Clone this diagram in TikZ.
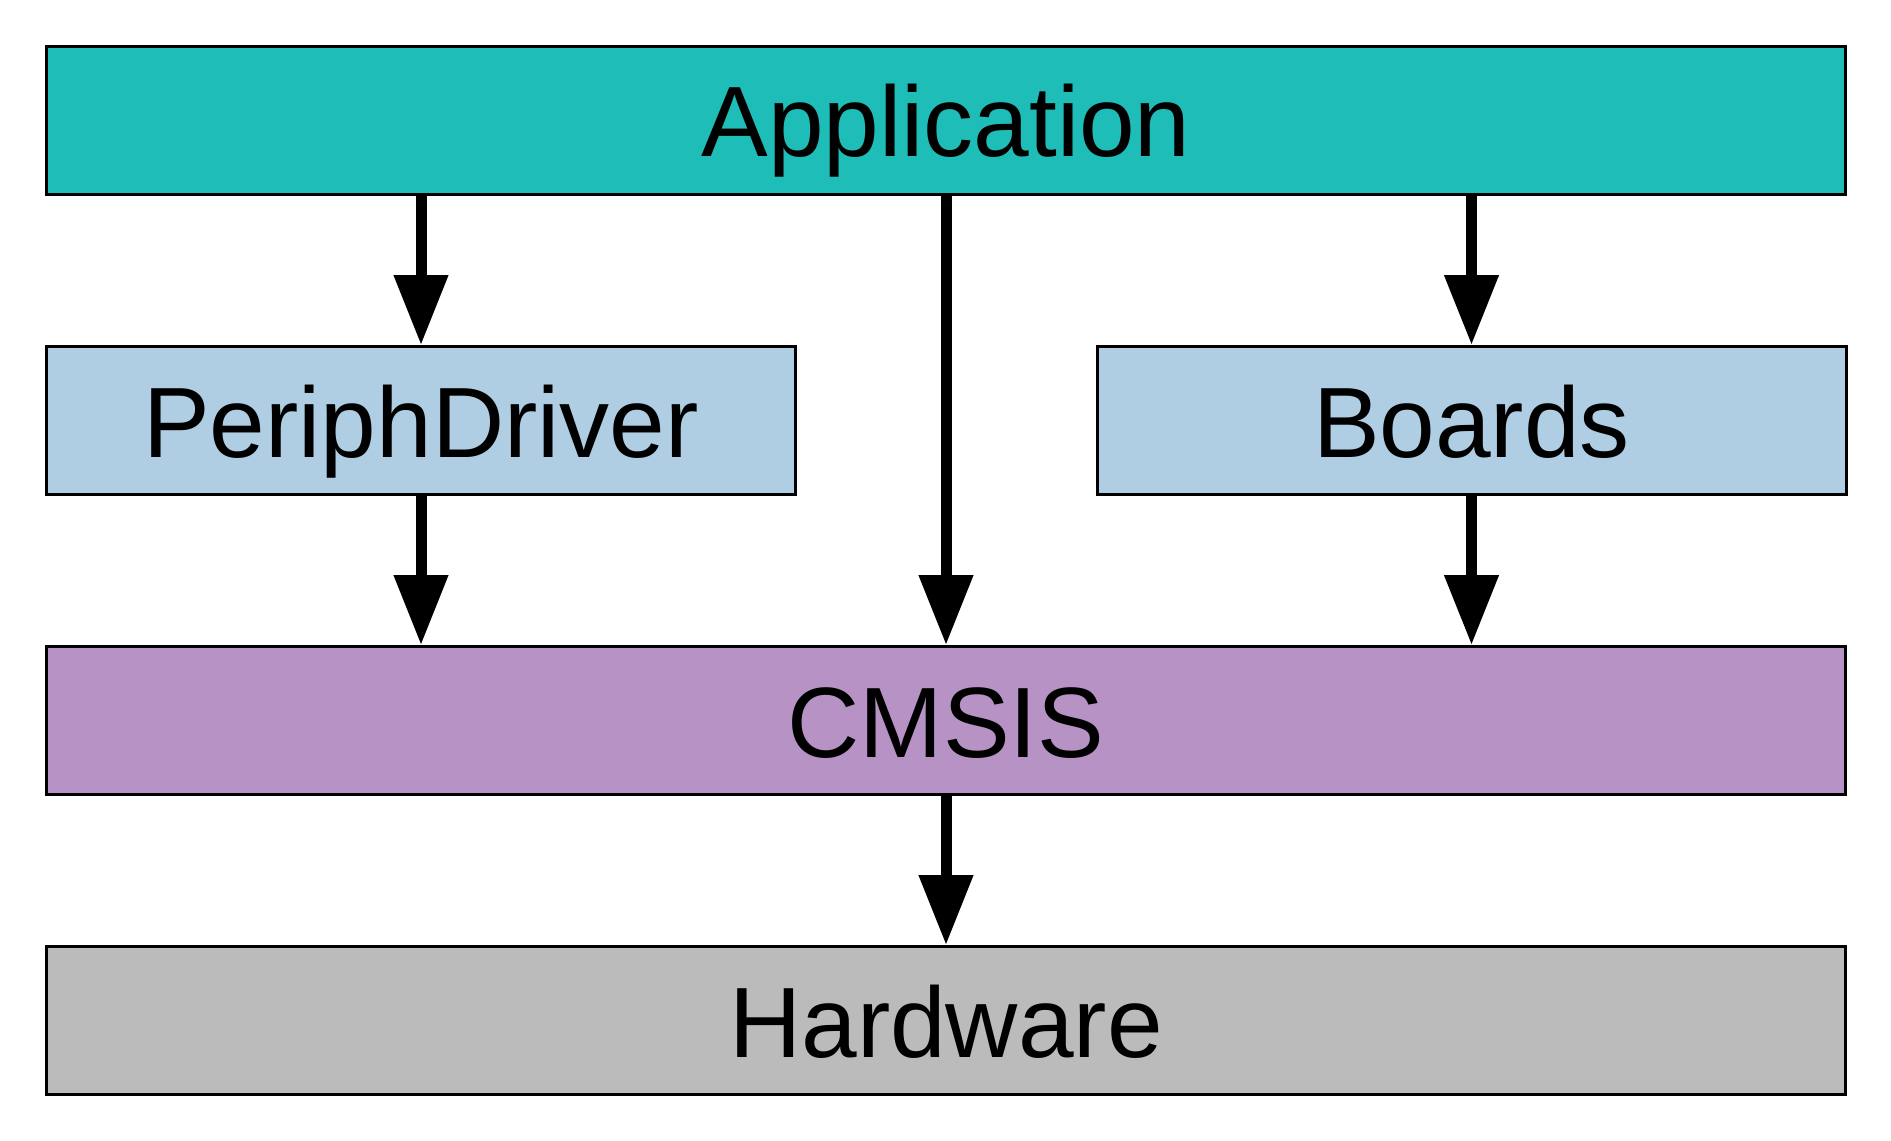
\documentclass[tikz,border=0pt]{standalone}
\usepackage{fontspec}
\setmainfont{Liberation Sans}
\usetikzlibrary{arrows.meta}
\definecolor{appcol}{RGB}{31,189,184}
\definecolor{midcol}{RGB}{175,206,227}
\definecolor{cmsiscol}{RGB}{182,146,197}
\definecolor{hwcol}{RGB}{187,187,187}
\tikzset{
  layer/.style={draw=black, line width=3pt, rectangle, inner sep=0pt,
    minimum height=148pt, text height=73pt, text depth=0pt,
    font=\fontsize{100}{120}\selectfont},
  wide/.style={layer, minimum width=1799pt},
  half/.style={layer, minimum width=749pt},
  flow/.style={line width=11pt, -{Triangle[length=70pt,width=52pt]}}
}
\begin{document}
\begin{tikzpicture}[x=1pt,y=-1pt]
\useasboundingbox (0,0) rectangle (1891,1141);
\node[wide, fill=appcol] (app) at (946,120) {Application};
\node[half, fill=midcol] (periph) at (421,420.5) {PeriphDriver};
\node[half, fill=midcol] (boards) at (1471.5,420.5) {Boards};
\node[wide, fill=cmsiscol] (cmsis) at (946,720.5) {CMSIS};
\node[wide, fill=hwcol] (hw) at (946,1020.5) {Hardware};
\draw[flow] (app.south -| periph.north) -- (periph.north);
\draw[flow] (app.south -| boards.north) -- (boards.north);
\draw[flow] (app.south) -- (cmsis.north);
\draw[flow] (periph.south) -- (periph.south |- cmsis.north);
\draw[flow] (boards.south) -- (boards.south |- cmsis.north);
\draw[flow] (cmsis.south) -- (hw.north);
\end{tikzpicture}
\end{document}
